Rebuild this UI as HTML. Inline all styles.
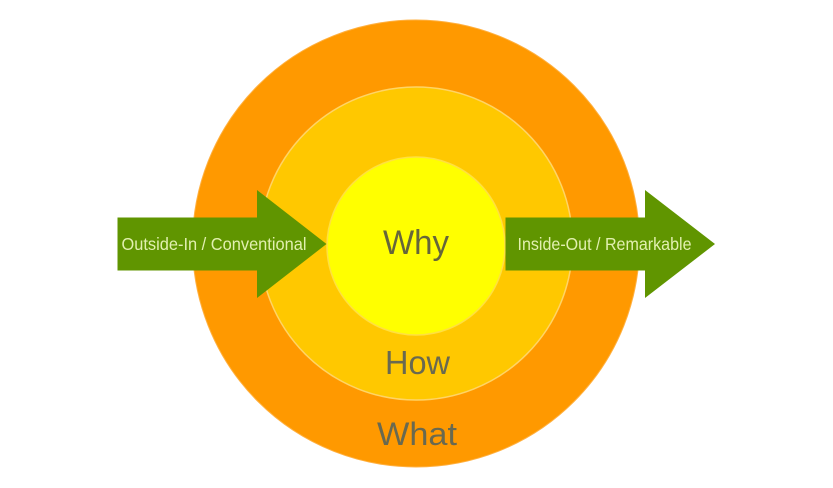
<!DOCTYPE html>
<html>
<head>
<meta charset="utf-8">
<style>
  html, body { margin: 0; padding: 0; background: #ffffff; }
  body { width: 833px; height: 488px; overflow: hidden; }
  svg { display: block; }
</style>
</head>
<body>
<svg width="833" height="488" viewBox="0 0 833 488" xmlns="http://www.w3.org/2000/svg">
  <rect width="833" height="488" fill="#ffffff"/>
  <!-- outer circle -->
  <circle cx="416" cy="243.5" r="223.5" fill="#ff9900" stroke="#ffb040" stroke-width="1"/>
  <!-- middle circle -->
  <circle cx="416" cy="243.5" r="156.5" fill="#ffc800" stroke="#ffd466" stroke-width="1.5"/>
  <!-- inner circle -->
  <circle cx="416" cy="246" r="89" fill="#ffff00" stroke="#ffe040" stroke-width="1.5"/>

  <!-- left arrow -->
  <polygon points="117.5,217.5 257,217.5 257,190 326.5,244 257,298 257,270.5 117.5,270.5" fill="#609500"/>
  <!-- right arrow -->
  <polygon points="505.5,217.5 645,217.5 645,190 715,244 645,298 645,270.5 505.5,270.5" fill="#609500"/>

  <g font-family="'Liberation Sans', 'DejaVu Sans', sans-serif">
    <text x="121.5" y="250" font-size="17.5" fill="#e2f0b0" textLength="185" lengthAdjust="spacingAndGlyphs">Outside-In / Conventional</text>
    <text x="517.5" y="250" font-size="17.5" fill="#e2f0b0" textLength="174" lengthAdjust="spacingAndGlyphs">Inside-Out / Remarkable</text>

    <text x="383" y="254" font-size="34.5" fill="#66663a" textLength="66" lengthAdjust="spacingAndGlyphs">Why</text>
    <text x="385" y="374" font-size="33.5" fill="#696950" textLength="65" lengthAdjust="spacingAndGlyphs">How</text>
    <text x="377" y="445" font-size="32.5" fill="#696950" textLength="80" lengthAdjust="spacingAndGlyphs">What</text>
  </g>
</svg>
</body>
</html>
